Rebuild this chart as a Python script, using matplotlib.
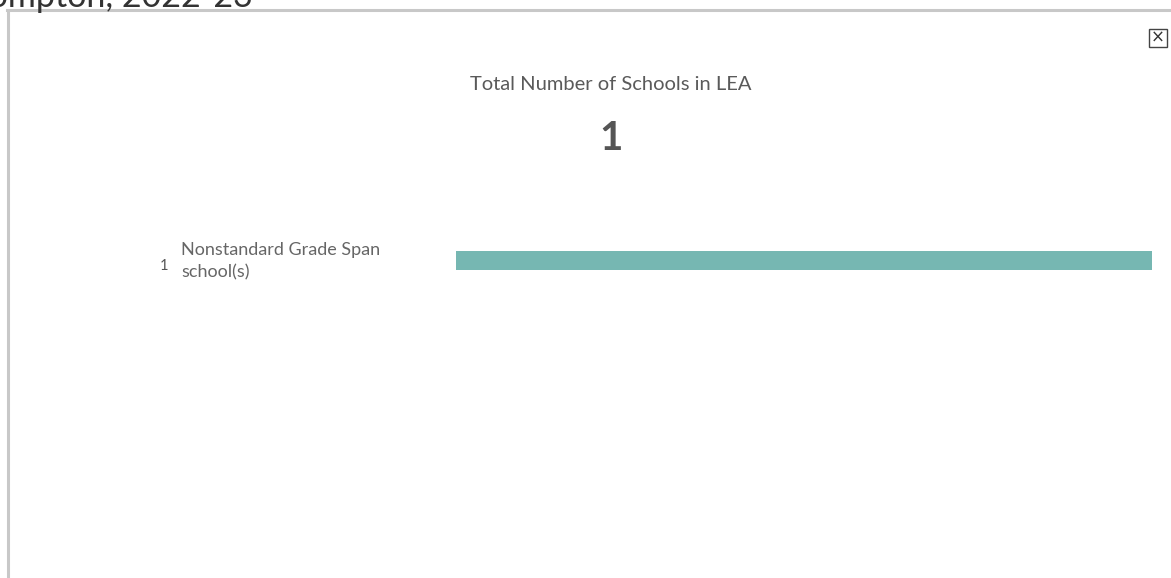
import matplotlib
matplotlib.use("Agg")
import matplotlib.pyplot as plt
from matplotlib.patches import Rectangle
from matplotlib.lines import Line2D

categories = ["Nonstandard Grade Span\nschool(s)"]
counts = [1]
total_schools = 1
header_title = "Compton, 2022-23"
kpi_title = "Total Number of Schools in LEA"

W, H = 1171, 578
fig = plt.figure(figsize=(W / 100, H / 100), dpi=100)
plt.rcParams['font.family'] = ['Lato', 'DejaVu Sans']

def fx(px):
    return px / W

def fy(py):
    return 1 - py / H

# clipped header title (cut off at top/left edge, as in the reference)
fig.text(fx(253), fy(7), header_title, ha='right', va='baseline', fontsize=24.5, color='#333333')

# border lines
fig.add_artist(Line2D([fx(8), fx(8)], [fy(10), fy(H + 5)], color='#c8c8c8', lw=2.2, transform=fig.transFigure))
fig.add_artist(Line2D([fx(7), fx(W + 5)], [fy(10), fy(10)], color='#c8c8c8', lw=2.2, transform=fig.transFigure))

# close button
fig.add_artist(Rectangle((fx(1148.5), fy(47)), fx(18), 18 / H, transform=fig.transFigure,
                         fill=False, edgecolor='#444444', lw=1))
fig.text(fx(1157.5), fy(38), "\u00d7", ha='center', va='center', fontsize=12, color='#333333',
         family=['DejaVu Sans'])

# KPI
fig.text(fx(611), fy(84), kpi_title, ha='center', va='center', fontsize=14.5, color='#5a5a5a')
fig.text(fx(611), fy(138), str(total_schools), ha='center', va='center', fontsize=29,
         fontweight='bold', color='#555555')

# bar chart
ax = fig.add_axes([fx(456), fy(290), fx(1152 - 456), 60 / H])
y = list(range(len(categories)))
ax.barh(y, counts, height=19 / 60, color='#76b7b2')
ax.set_xlim(0, max(counts))
ax.set_ylim(-0.5, 0.5)
ax.axis('off')

for i, (c, v) in enumerate(zip(categories, counts)):
    fig.text(fx(160), fy(266), str(v), ha='left', va='center', fontsize=10.5, color='#555555')
    fig.text(fx(181), fy(261), c, ha='left', va='center', fontsize=13, color='#666666',
             linespacing=1.45)

fig.savefig("out.png", dpi=100, facecolor='white')
